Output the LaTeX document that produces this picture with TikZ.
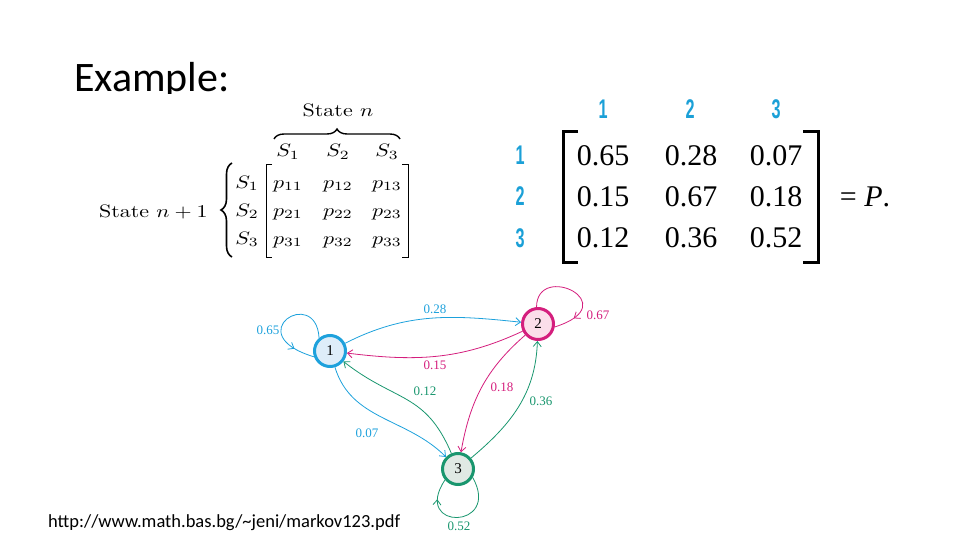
\documentclass[tikz,border=0pt]{standalone}
\usepackage{fontspec}
\usetikzlibrary{arrows.meta,decorations.pathreplacing,decorations.markings}
\newfontfamily\calib{Carlito}
\newfontfamily\tms{Liberation Serif}
\newfontfamily\hdr{Liberation Sans}
\definecolor{cyanS}{RGB}{29,161,220}
\definecolor{cyanF}{RGB}{222,237,249}
\definecolor{pinkS}{RGB}{212,30,125}
\definecolor{pinkF}{RGB}{251,222,234}
\definecolor{greenS}{RGB}{25,150,110}
\definecolor{greenF}{RGB}{224,233,228}
\definecolor{hdrblue}{RGB}{27,160,215}
\begin{document}
\begin{tikzpicture}[x=1pt,y=1pt,>={Straight Barb[length=5pt,width=8pt]},
  mathtxt/.style={font=\normalsize,xscale=2.2,yscale=1.8,inner sep=0pt,anchor=base},
  num/.style={font=\tms\fontsize{30}{32}\selectfont,inner sep=0pt,anchor=base},
  idx/.style={font=\hdr\bfseries\fontsize{27}{28}\selectfont,text=hdrblue,xscale=0.6,inner sep=0pt},
  stnode/.style={circle,minimum size=31pt,inner sep=0pt,line width=3pt,font=\tms\fontsize{15}{15}\selectfont},
  lbl/.style={font=\tms\fontsize{13}{13}\selectfont,inner sep=0pt},
  edgeline/.style={line width=.8pt},
  loopmark/.style={edgeline,postaction={decorate},decoration={markings,mark=at position 0.8 with {\arrow{>}}}}]
\useasboundingbox (0,0) rectangle (960,-540);
\begin{scope}\clip (0,0) rectangle (960,-94);
\node[font=\calib\fontsize{42}{44}\selectfont,anchor=base west,inner sep=0pt] (title) at (74,-92) {Example:};
\end{scope}
\node[mathtxt] (sn) at (338,-117) {State $n$};
\draw[line width=1.4pt,decorate,decoration={brace,amplitude=10pt}] (274,-139) -- (400,-139);
\foreach \c/\x in {1/288,2/338,3/387}{\node[mathtxt] (h\c) at (\x,-157) {$S_\c$};}
\node[mathtxt,anchor=base east] (sn1) at (208,-217) {State $n+1$};
\draw[line width=1.6pt,decorate,decoration={brace,amplitude=11pt}] (232,-257) -- (232,-163);
\foreach \r/\y in {1/188,2/216,3/244}{\node[mathtxt] (r\r) at (247,-\y) {$S_\r$};
  \foreach \c/\x in {1/288,2/338,3/387}{\node[mathtxt] (p\r\c) at (\x,-\y) {$p_{\r\c}$};}}
\draw[line width=1pt] (272,-165) -| (266,-257) -- (272,-257);
\draw[line width=1pt] (402,-165) -| (408,-257) -- (402,-257);
\foreach \c/\x in {1/603,2/690,3/776}{\node[idx] (c\c) at (\x,-109) {\c};}
\foreach \r/\y in {1/155,2/196,3/238}{\node[idx] (k\r) at (520,-\y) {\r};}
\foreach \r/\y/\a/\b/\d in {1/165/0.65/0.28/0.07,2/206/0.15/0.67/0.18,3/247/0.12/0.36/0.52}{
  \node[num] (m\r1) at (603,-\y) {\a};\node[num] (m\r2) at (691,-\y) {\b};\node[num] (m\r3) at (776,-\y) {\d};}
\draw[line width=3pt] (578,-131.5) -| (563,-262) -- (578,-262);
\draw[line width=3pt] (803,-131.5) -| (818,-262) -- (803,-262);
\node[num] (eqP) at (865,-206) {= \textit{P}.};
\node[stnode,draw=cyanS,fill=cyanF] (n1) at (330,-351) {1};
\node[stnode,draw=pinkS,fill=pinkF] (n2) at (538,-324) {2};
\node[stnode,draw=greenS,fill=greenF] (n3) at (458,-469) {3};
\draw[->,edgeline,cyanS] (n1) to[out=27,in=174] (n2);
\draw[->,edgeline,pinkS] (n2) to[out=205,in=-7] (n1);
\draw[->,edgeline,greenS] (n3) to[out=113,in=-38,looseness=1.2] (n1);
\draw[->,edgeline,cyanS] (n1) to[out=-73,in=135] (n3);
\draw[->,edgeline,pinkS] (n2) to[out=221,in=80] (n3);
\draw[->,edgeline,greenS] (n3) to[out=40,in=-92] (n2);
\draw[loopmark,cyanS] (n1.130) .. controls (316,-285) and (238,-334) .. (n1.200);
\draw[loopmark,pinkS] (n2.95) .. controls (537,-261) and (627,-304) .. (n2.-10);
\draw[loopmark,greenS] (n3.-30) .. controls (502,-530) and (411,-531) .. (n3.220);
\foreach \n/\x/\y/\w/\col in {w11/268/330/0.65/cyanS,w12/435/309/0.28/cyanS,w13/367/433/0.07/cyanS,
  w21/435/365/0.15/pinkS,w22/598/315/0.67/pinkS,w23/502/387/0.18/pinkS,
  w31/425/391/0.12/greenS,w32/541/401/0.36/greenS,w33/459/526/0.52/greenS}{\node[lbl,text=\col] (\n) at (\x,-\y) {\w};}
\node[font=\calib\fontsize{18.5}{19}\selectfont,anchor=west,inner sep=0pt] (src) at (48,-523) {http://www.math.bas.bg/\textasciitilde jeni/markov123.pdf};
\end{tikzpicture}
\end{document}
